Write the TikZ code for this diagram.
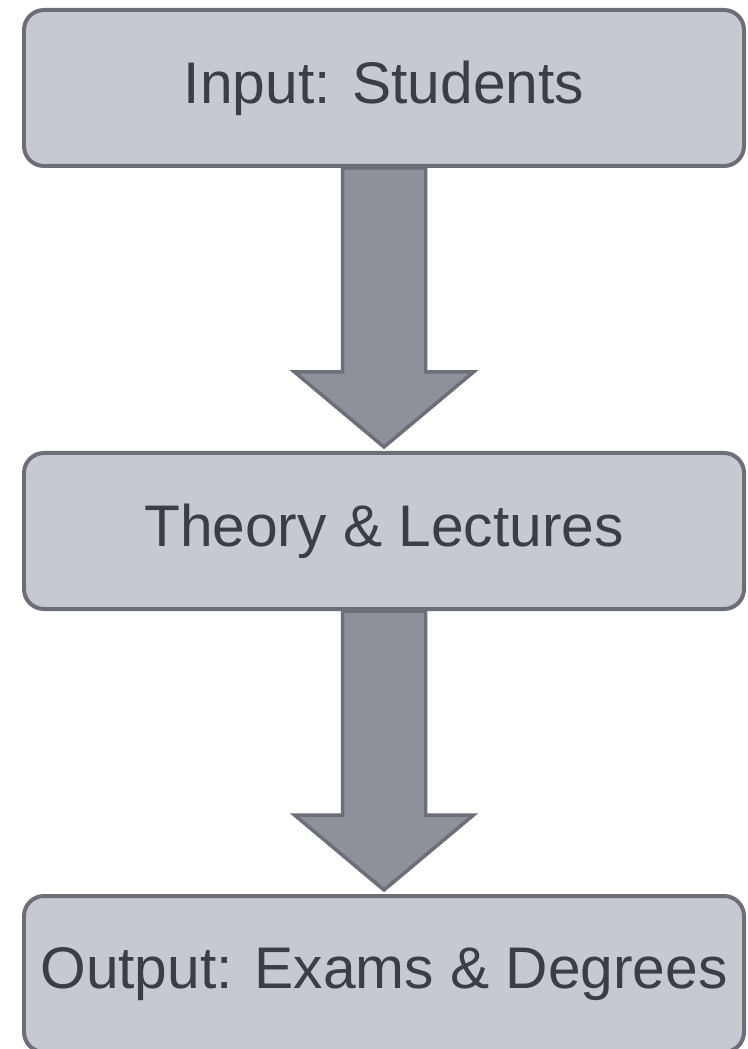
\documentclass[tikz,border=0pt]{standalone}
\usepackage{fontspec}
\setmainfont{Liberation Sans}
\usetikzlibrary{positioning,calc}
\definecolor{boxfill}{RGB}{198,201,207}
\definecolor{edgegray}{RGB}{106,111,120}
\definecolor{arrowgray}{RGB}{142,145,153}
\definecolor{textgray}{RGB}{59,62,69}

\begin{document}
\begin{tikzpicture}[
    node distance=2.83cm,
    box/.style={rectangle, draw=edgegray, fill=boxfill, line width=0.04cm, rounded corners=0.2cm, minimum height=1.56cm, minimum width=7.2cm, align=center, text=textgray, font=\fontsize{16.7}{20}\selectfont},
    flow/.style={draw=edgegray, fill=arrowgray, line width=0.035cm, line join=miter}
]
\useasboundingbox (0,0) rectangle (7.47,-10.49);

% Stages
\node[box] (input) at (3.84,-0.88) {Input: Students};
\node[box, below=of input] (theory) {Theory \& Lectures};
\node[box, below=of theory] (output) {Output: Exams \& Degrees};

% Arrows
\draw[flow] ($(input.south)+(-0.415,0)$) -- ($(theory.north)+(-0.415,0.79)$) -- ($(theory.north)+(-0.895,0.79)$)
    -- ($(theory.north)+(0,0.04)$) -- ($(theory.north)+(0.895,0.79)$) -- ($(theory.north)+(0.415,0.79)$)
    -- ($(input.south)+(0.415,0)$) -- cycle;
\draw[flow] ($(theory.south)+(-0.415,0)$) -- ($(output.north)+(-0.415,0.79)$) -- ($(output.north)+(-0.895,0.79)$)
    -- ($(output.north)+(0,0.04)$) -- ($(output.north)+(0.895,0.79)$) -- ($(output.north)+(0.415,0.79)$)
    -- ($(theory.south)+(0.415,0)$) -- cycle;

\end{tikzpicture}
\end{document}
